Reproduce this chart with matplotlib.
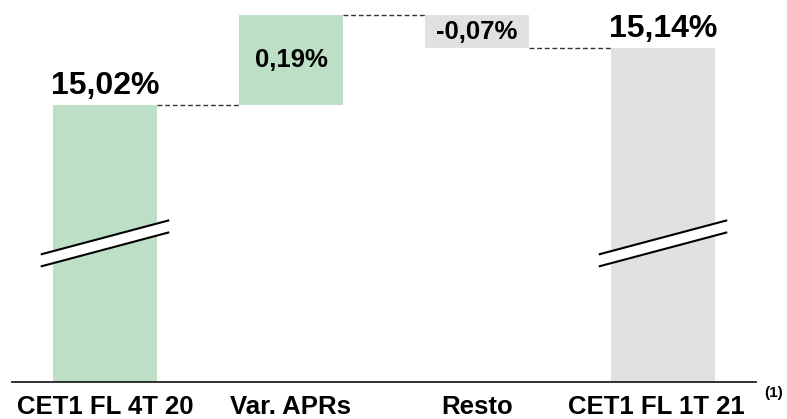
import numpy as np
import matplotlib.pyplot as plt
from matplotlib.patches import Polygon

plt.rcParams['font.family'] = ['Liberation Sans', 'DejaVu Sans']

# CET1 fully loaded bridge, 4T 20 -> 1T 21 (%)
categories = ["CET1 FL 4T 20", "Var. APRs", "Resto", "CET1 FL 1T 21"]
values = [15.02, 0.19, -0.07, 15.14]
labels = ["15,02%", "0,19%", "-0,07%", "15,14%"]
kinds = ["total", "delta", "delta", "total"]
colors = ["#bddfc6", "#bddfc6", "#e1e1e1", "#e1e1e1"]

y_floor = 14.436      # broken axis: bars start here
y_top = 15.2417
break_level = 14.728  # centre of the break marks on the total bars

fig = plt.figure(figsize=(7.87, 4.19), dpi=100)
ax = fig.add_axes([12 / 787, (419 - 381.7) / 419, 744 / 787, 381.7 / 419])
ax.set_xlim(-0.5, 3.5)
ax.set_ylim(y_floor, y_top)

x = np.arange(len(categories))
width = 0.56

bottoms, heights, levels = [], [], []
running = 0.0
for v, k in zip(values, kinds):
    if k == "total":
        bottoms.append(y_floor)
        heights.append(v - y_floor)
        running = v
    else:
        bottoms.append(running)
        heights.append(v)
        running += v
    levels.append(running)

ax.bar(x, heights, bottom=bottoms, width=width, color=colors, edgecolor="none", zorder=2)

# dashed connectors between consecutive bars
for i in range(len(x) - 1):
    ax.plot([x[i] + width / 2, x[i + 1] - width / 2], [levels[i], levels[i]],
            color="#333333", lw=1.0, ls=(0, (3.5, 2)), zorder=1)

# axis-break marks on the total bars
for i, k in enumerate(kinds):
    if k != "total":
        continue
    x0, x1 = x[i] - 0.34, x[i] + 0.34
    slope, gap = 0.071, 0.0127
    lo0, lo1 = break_level - slope / 2 - gap, break_level + slope / 2 - gap
    hi0, hi1 = break_level - slope / 2 + gap, break_level + slope / 2 + gap
    ax.add_patch(Polygon([[x0, lo0], [x1, lo1], [x1, hi1], [x0, hi0]],
                         closed=True, facecolor="white", edgecolor="none", zorder=3))
    ax.plot([x0, x1], [lo0, lo1], color="black", lw=1.5, zorder=4, clip_on=False)
    ax.plot([x0, x1], [hi0, hi1], color="black", lw=1.5, zorder=4, clip_on=False)

# value labels
for i, (k, lab) in enumerate(zip(kinds, labels)):
    if k == "total":
        ax.annotate(lab, (x[i], levels[i]), xytext=(0, 8), textcoords="offset points",
                    ha="center", va="baseline", fontsize=23, fontweight="bold", zorder=5)
    else:
        ax.text(x[i], bottoms[i] + heights[i] / 2, lab, ha="center", va="center",
                fontsize=18.5, fontweight="bold", zorder=5)

# category labels under the axis
for i, cat in enumerate(categories):
    dx = -0.035 if i == len(categories) - 1 else 0
    ax.text(x[i] + dx, -0.085, cat, transform=ax.get_xaxis_transform(), ha="center",
            va="baseline", fontsize=18.5, fontweight="bold")
fig.text(774 / 787, 1 - 397 / 419, "(1)", ha="center", va="baseline",
         fontsize=11, fontweight="bold")

for side in ["top", "right", "left"]:
    ax.spines[side].set_visible(False)
ax.spines["bottom"].set_linewidth(1.3)
ax.spines["bottom"].set_color("#222222")
ax.set_xticks([])
ax.set_yticks([])

fig.savefig("out.png", dpi=100)
